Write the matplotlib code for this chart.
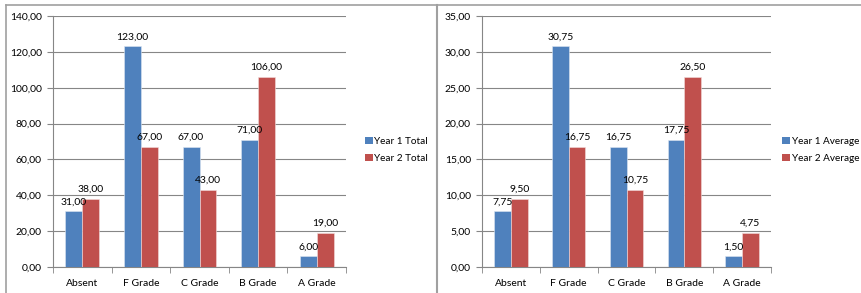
import matplotlib
matplotlib.use("Agg")
import matplotlib.pyplot as plt
from matplotlib.patches import Patch
from matplotlib.lines import Line2D
import numpy as np

categories = ["Absent", "F Grade", "C Grade", "B Grade", "A Grade"]
year1_total = [31, 123, 67, 71, 6]
year2_total = [38, 67, 43, 106, 19]
year1_avg = [7.75, 30.75, 16.75, 17.75, 1.50]
year2_avg = [9.50, 16.75, 10.75, 26.50, 4.75]

plt.rcParams['font.family'] = ['Lato', 'DejaVu Sans']
BLUE = "#4F81BD"
RED = "#C0504D"
GRID = "#868686"
TXT = "#000000"
FS = 7.5
W, H = 861, 293

fig = plt.figure(figsize=(W / 100, H / 100), dpi=100)

# panel borders
fig.add_artist(Line2D([6 / W, 1], [1 - 4.5 / H, 1 - 4.5 / H], color="#A0A0A0", lw=1.2, transform=fig.transFigure))
fig.add_artist(Line2D([6 / W, 6 / W], [0, 1 - 4.5 / H], color="#A0A0A0", lw=1.2, transform=fig.transFigure))
fig.add_artist(Line2D([437 / W, 437 / W], [0, 1 - 4.5 / H], color="#A0A0A0", lw=1.5, transform=fig.transFigure))


def fmt(v):
    return f"{v:.2f}".replace(".", ",")


def panel(x0, x1, s1, s2, ymax, ystep, labels, leg_x):
    ax = fig.add_axes([x0 / W, 1 - 267 / H, (x1 - x0) / W, (267 - 16) / H])
    x = np.arange(len(categories))
    bw = 0.29
    b1 = ax.bar(x - bw / 2, s1, bw, color=BLUE, edgecolor="#DCE6F2", linewidth=0.4, zorder=3)
    b2 = ax.bar(x + bw / 2, s2, bw, color=RED, edgecolor="#F2DCDB", linewidth=0.4, zorder=3)
    for bars, vals in ((b1, s1), (b2, s2)):
        for r, v in zip(bars, vals):
            ax.annotate(fmt(v), (r.get_x() + r.get_width() / 2, v), xytext=(0, 3.5),
                        textcoords="offset points", ha="center", va="bottom",
                        fontsize=FS, color=TXT, zorder=4)
    ax.set_xlim(-0.5, len(categories) - 0.5)
    ax.set_ylim(0, ymax)
    yt = np.arange(0, ymax + ystep / 2, ystep)
    ax.set_yticks(yt)
    ax.set_yticklabels([fmt(v) for v in yt], fontsize=FS, color=TXT)
    ax.set_xticks(x)
    ax.set_xticklabels(categories, fontsize=FS, color=TXT)
    ax.set_xticks(np.arange(-0.5, len(categories)), minor=True)
    ax.tick_params(axis="x", which="major", length=0, pad=9)
    ax.tick_params(axis="x", which="minor", length=4, color=GRID, direction="out")
    ax.tick_params(axis="y", length=4, color=GRID, direction="out", pad=4)
    ax.grid(axis="y", color=GRID, lw=0.8, zorder=0)
    for s in ("top", "right"):
        ax.spines[s].set_visible(False)
    ax.spines["left"].set_color(GRID)
    ax.spines["bottom"].set_color(GRID)
    handles = [Patch(facecolor=BLUE, label=labels[0]), Patch(facecolor=RED, label=labels[1])]
    leg = fig.legend(handles=handles, loc="center left", bbox_to_anchor=(leg_x / W, 1 - 150 / H),
                     frameon=False, fontsize=7.2, handlelength=0.75, handleheight=0.75,
                     handletextpad=0.2, labelspacing=0.8, borderpad=0, borderaxespad=0)
    for t in leg.get_texts():
        t.set_color(TXT)
    return ax


panel(53, 346, year1_total, year2_total, 140, 20, ["Year 1 Total", "Year 2 Total"], 365)
panel(482, 771, year1_avg, year2_avg, 35, 5, ["Year 1 Average", "Year 2 Average"], 782)

fig.savefig("out.png", dpi=100)
